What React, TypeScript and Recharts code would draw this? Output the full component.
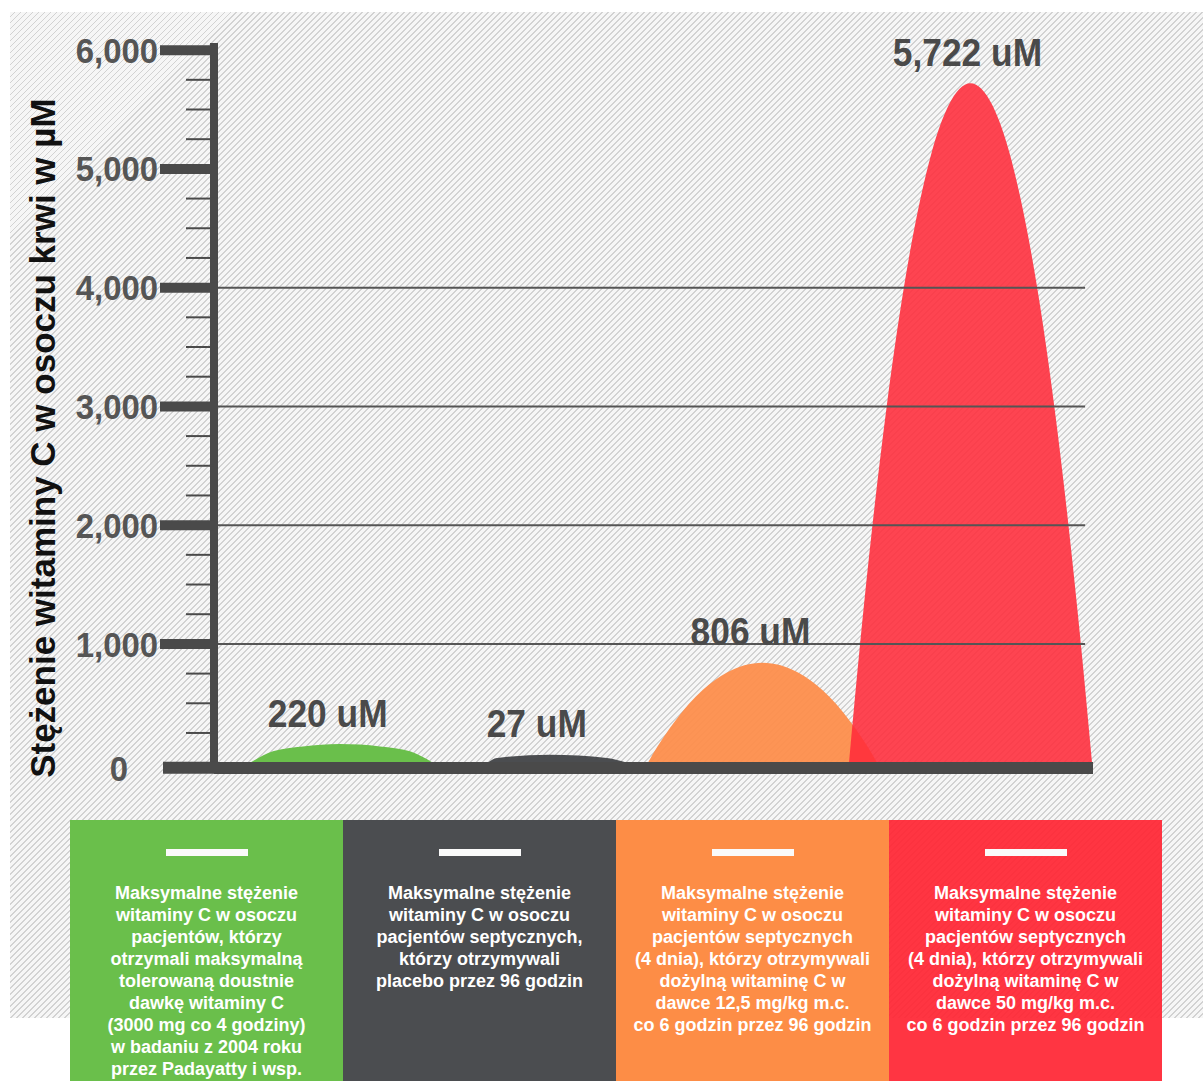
import { AreaChart, Area, XAxis, YAxis, ReferenceLine, LabelList } from 'recharts';

const FONT = '"Liberation Sans", Arial, sans-serif';
const AXIS = '#4a4a4a';

const seriesKeys = ['oral', 'placebo', 'iv12', 'iv50'];
const peakLabels = ['220 uM', '27 uM', '806 uM', '5,722 uM'];
const colors = ['#6abf4b', '#4b4d50', '#fd8d4a', '#ff2b3a'];
const opacities = [1, 1, 0.94, 0.88];
const labelShift = [-12, -13, -12, -3];

// outlines: position along the baseline (0-100) and concentration in µM
const oralPos = [4.1, 6.7, 10.1, 14.3, 18.9, 22.3, 24.9];
const oralVal = [0, 95, 137, 157, 137, 95, 0];
const placeboPos = [31.1, 32.2, 38.2, 44.7, 47.0];
const placeboVal = [0, 40, 67, 40, 0];
const iv12Pos = [49.37, 50.45, 52.31, 55.62, 58.3, 62.4, 66.5, 69.18, 72.49, 74.35, 75.43];
const iv12Val = [0, 135, 337, 614, 758, 842, 758, 614, 337, 135, 0];
const iv50Pos = [72.24, 73.5, 74.91, 76.53, 78.48, 80.39, 81.66, 83.53, 86.06, 88.6, 90.47, 91.74, 93.65, 95.6, 97.21, 98.62, 99.89];
const iv50Val = [0, 1000, 2000, 3000, 4000, 4756, 5143, 5530, 5722, 5530, 5143, 4756, 4000, 3000, 2000, 1000, 0];

const yTicks = [0, 250, 500, 750, 1000, 1250, 1500, 1750, 2000, 2250, 2500, 2750, 3000, 3250, 3500, 3750, 4000, 4250, 4500, 4750, 5000, 5250, 5500, 5750, 6000];
const gridValues = [1000, 2000, 3000, 4000];

const legendTexts = [
  ['Maksymalne stężenie', 'witaminy C w osoczu', 'pacjentów, którzy', 'otrzymali maksymalną', 'tolerowaną doustnie', 'dawkę witaminy C', '(3000 mg co 4 godziny)', 'w badaniu z 2004 roku', 'przez Padayatty i wsp.'],
  ['Maksymalne stężenie', 'witaminy C w osoczu', 'pacjentów septycznych,', 'którzy otrzymywali', 'placebo przez 96 godzin'],
  ['Maksymalne stężenie', 'witaminy C w osoczu', 'pacjentów septycznych', '(4 dnia), którzy otrzymywali', 'dożylną witaminę C w', 'dawce 12,5 mg/kg m.c.', 'co 6 godzin przez 96 godzin'],
  ['Maksymalne stężenie', 'witaminy C w osoczu', 'pacjentów septycznych', '(4 dnia), którzy otrzymywali', 'dożylną witaminę C w', 'dawce 50 mg/kg m.c.', 'co 6 godzin przez 96 godzin'],
];
const legendBg = ['#6abf4b', '#4b4d50', '#fd8d46', 'rgba(255,36,50,0.92)'];

const seriesPos = [oralPos, placeboPos, iv12Pos, iv50Pos];
const seriesVal = [oralVal, placeboVal, iv12Val, iv50Val];

const rowMap = new Map<number, any>();
seriesPos.forEach((pos, i) =>
  pos.forEach((p, j) => {
    const row = rowMap.get(p) ?? { x: p };
    row[seriesKeys[i]] = seriesVal[i][j];
    rowMap.set(p, row);
  })
);
const chartData = [...rowMap.values()].sort((a, b) => a.x - b.x);
const peakIndex = seriesKeys.map((k, i) => {
  const m = Math.max(...seriesVal[i]);
  return chartData.findIndex((r) => r[k] === m);
});

const peakLabel = (i: number) => (props: any) => {
  if (props.index !== peakIndex[i]) return null;
  const x = props.x ?? props.viewBox?.x;
  const y = props.y ?? props.viewBox?.y;
  return (
    <text
      transform={`translate(${x + labelShift[i]},${y - 31}) scale(0.93,1)`}
      textAnchor="middle"
      dy="0.36em"
      fontSize={38}
      fontWeight="bold"
      fill="#4a4a4a"
      fontFamily={FONT}
    >
      {peakLabels[i]}
    </text>
  );
};

const YTick = (props: any) => {
  const { x, y, payload } = props;
  const v = payload.value;
  if (v === 0) {
    return (
      <g>
        <line x1={x - 51} x2={x} y1={y + 5} y2={y + 5} stroke={AXIS} strokeWidth={12} />
        <text transform={`translate(${x - 86},${y + 6}) scale(0.94,1)`} textAnchor="end" dy="0.36em" fontSize={35} fontWeight="bold" fill="#555" fontFamily={FONT}>
          0
        </text>
      </g>
    );
  }
  if (v % 1000 === 0) {
    return (
      <g>
        <line x1={x - 54} x2={x} y1={y} y2={y} stroke={AXIS} strokeWidth={10} />
        <text transform={`translate(${x - 56},${y}) scale(0.94,1)`} textAnchor="end" dy="0.36em" fontSize={35} fontWeight="bold" fill="#555" fontFamily={FONT}>
          {v.toLocaleString('en-US')}
        </text>
      </g>
    );
  }
  return <line x1={x - 28} x2={x} y1={y} y2={y} stroke={AXIS} strokeWidth={2} />;
};

const YTitle = (props: any) => {
  const vb = props.viewBox || { x: 0, y: 43, width: 214, height: 725 };
  const cx = vb.x + 55;
  const cy = vb.y + vb.height * 0.545;
  return (
    <text x={cx} y={cy} transform={`rotate(-90, ${cx}, ${cy})`} textAnchor="middle" fontSize={35} fontWeight="bold" fill="#111" fontFamily={FONT}>
      Stężenie witaminy C w osoczu krwi w µM
    </text>
  );
};

export default function App() {
  return (
    <div style={{ position: 'absolute', left: 0, top: 0, width: 1203, height: 1081, background: '#fff', overflow: 'hidden', fontFamily: FONT }}>
      <div
        style={{
          position: 'absolute',
          left: 10,
          top: 12,
          width: 1193,
          height: 1006,
          background: 'repeating-linear-gradient(135deg, #f6f6f6 0px, #f6f6f6 2.83px, #d2d2d2 2.83px, #d2d2d2 4.2426px)',
        }}
      />
      <div style={{ position: 'absolute', left: 0, top: 0 }}>
        <AreaChart width={1203} height={800} data={chartData} margin={{ top: 43, right: 110, bottom: 30, left: 0 }}>
          <XAxis dataKey="x" type="number" domain={[0, 100]} tick={false} tickLine={false} height={2} axisLine={{ stroke: AXIS, strokeWidth: 12 }} />
          <YAxis
            type="number"
            domain={[-45, 6060]}
            ticks={yTicks}
            interval={0}
            width={214}
            tickSize={0}
            tickMargin={0}
            tickLine={false}
            tick={YTick}
            axisLine={{ stroke: AXIS, strokeWidth: 8 }}
            label={YTitle}
          />
          {gridValues.map((v) => (
            <ReferenceLine key={v} segment={[{ x: 0, y: v }, { x: 99.1, y: v }]} stroke="#555" strokeWidth={2} />
          ))}
          {seriesKeys.map((k, i) => (
            <Area
              key={k}
              type="monotone"
              dataKey={k}
              name={k}
              stroke="none"
              fill={colors[i]}
              fillOpacity={opacities[i]}
              connectNulls
              dot={false}
              activeDot={false}
              isAnimationActive={false}
            >
              <LabelList content={peakLabel(i)} />
            </Area>
          ))}
        </AreaChart>
      </div>
      <div style={{ position: 'absolute', left: 70, top: 820, display: 'flex' }}>
        {legendTexts.map((lines, i) => (
          <div key={i} style={{ width: 273, height: 261, background: legendBg[i], color: '#fff' }}>
            <div style={{ width: 82, height: 7, background: '#fafafa', margin: '29px auto 0' }} />
            <div style={{ marginTop: 26, fontSize: 18, lineHeight: '22px', fontWeight: 'bold', textAlign: 'center', whiteSpace: 'nowrap' }}>
              {lines.map((l, j) => (
                <div key={j}>{l}</div>
              ))}
            </div>
          </div>
        ))}
      </div>
    </div>
  );
}
